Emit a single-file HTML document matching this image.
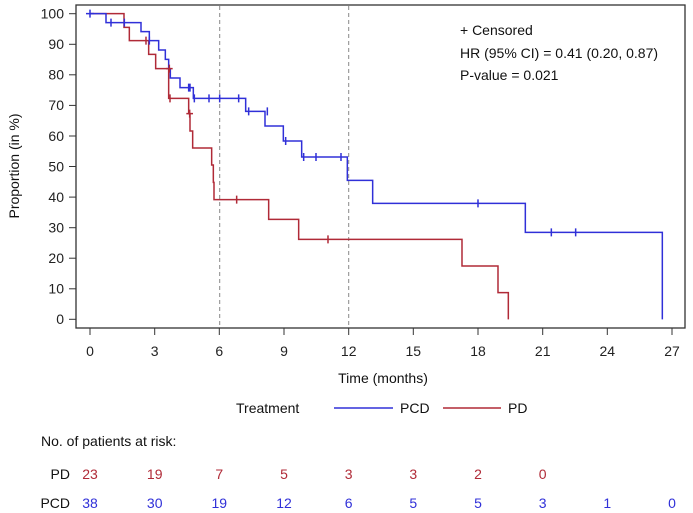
<!DOCTYPE html>
<html><head><meta charset="utf-8"><style>
body{margin:0;background:#fff;}
svg{display:block;font-family:"Liberation Sans",Arial,sans-serif;}
</style></head><body>
<svg width="693" height="513" viewBox="0 0 693 513" xmlns="http://www.w3.org/2000/svg">
<rect x="76" y="5" width="609" height="323" fill="none" stroke="#333" stroke-width="1.3"/>
<g stroke="#333" stroke-width="1">
<line x1="69" x2="76" y1="13.7" y2="13.7"/><line x1="69" x2="76" y1="44.3" y2="44.3"/>
<line x1="69" x2="76" y1="74.8" y2="74.8"/><line x1="69" x2="76" y1="105.4" y2="105.4"/>
<line x1="69" x2="76" y1="136" y2="136"/><line x1="69" x2="76" y1="166.5" y2="166.5"/>
<line x1="69" x2="76" y1="197.1" y2="197.1"/><line x1="69" x2="76" y1="227.7" y2="227.7"/>
<line x1="69" x2="76" y1="258.2" y2="258.2"/><line x1="69" x2="76" y1="288.8" y2="288.8"/>
<line x1="69" x2="76" y1="319.3" y2="319.3"/>
<line x1="90" x2="90" y1="328" y2="335"/><line x1="154.7" x2="154.7" y1="328" y2="335"/>
<line x1="219.3" x2="219.3" y1="328" y2="335"/><line x1="284" x2="284" y1="328" y2="335"/>
<line x1="348.7" x2="348.7" y1="328" y2="335"/><line x1="413.3" x2="413.3" y1="328" y2="335"/>
<line x1="478" x2="478" y1="328" y2="335"/><line x1="542.7" x2="542.7" y1="328" y2="335"/>
<line x1="607.3" x2="607.3" y1="328" y2="335"/><line x1="672" x2="672" y1="328" y2="335"/>
</g>
<g font-size="14" fill="#222" text-anchor="end">
<text x="64" y="18.5">100</text><text x="64" y="49">90</text><text x="64" y="79.5">80</text>
<text x="64" y="110">70</text><text x="64" y="141">60</text><text x="64" y="171.5">50</text>
<text x="64" y="202">40</text><text x="64" y="232.5">30</text><text x="64" y="263">20</text>
<text x="64" y="293.5">10</text><text x="64" y="324">0</text>
</g>
<g font-size="14" fill="#222" text-anchor="middle">
<text x="90" y="356">0</text><text x="154.7" y="356">3</text><text x="219.3" y="356">6</text>
<text x="284" y="356">9</text><text x="348.7" y="356">12</text><text x="413.3" y="356">15</text>
<text x="478" y="356">18</text><text x="542.7" y="356">21</text><text x="607.3" y="356">24</text>
<text x="672" y="356">27</text>
</g>
<text x="383" y="383" font-size="14" text-anchor="middle" fill="#111">Time (months)</text>
<text transform="translate(19,166) rotate(-90)" font-size="14" text-anchor="middle" fill="#111">Proportion (in %)</text>
<g stroke="#888" stroke-dasharray="4,3" stroke-width="1">
<line x1="219.7" x2="219.7" y1="6" y2="327"/><line x1="348.7" x2="348.7" y1="6" y2="327"/>
</g>
<g transform="translate(60,0) scale(0.33333)" fill="none" stroke-width="1.5">
<path vector-effect="non-scaling-stroke" stroke="#b02a37" d="M90,41H192V82H208V122H266V163H287V206H326V295H386V341H390V393H398V444H455V495H460V547H462V599H626V658H716V718H1206V798H1314V878H1345V958"/>
<path vector-effect="non-scaling-stroke" stroke="#3030d8" d="M90,41H138V68H243V95H268V122H296V150H316V178H326V206H331V234H360V263H400V295H557V334H615V378H670V423H725V471H862V541H938V610H1396V697H1807V958"/>
<path vector-effect="non-scaling-stroke" stroke="#3030d8" d="M90,29V53M78,41H102M153,56V80M193,56V80M268,110V134M386,251V275M390,251V275M403,283V307M447,283V307M479,283V307M536,283V307M566,322V346M622,322V346M677,411V435M731,459V483M768,459V483M843,459V483M1254,598V622M1474,685V709M1547,685V709"/>
<path vector-effect="non-scaling-stroke" stroke="#b02a37" d="M258,110V134M328,194V218M318,206H338M330,283V307M389,329V353M379,341H399M530,587V611M804,706V730"/>
</g>
<g font-size="14" fill="#111">
<text x="460" y="35">+ Censored</text>
<text x="460" y="58">HR (95% CI) = 0.41 (0.20, 0.87)</text>
<text x="460" y="80">P-value = 0.021</text>
</g>
<g font-size="14" fill="#111">
<text x="236" y="413">Treatment</text>
<line x1="334" x2="393" y1="408" y2="408" stroke="#3030d8" stroke-width="1.5"/>
<text x="400" y="413">PCD</text>
<line x1="443" x2="501" y1="408" y2="408" stroke="#b02a37" stroke-width="1.5"/>
<text x="508" y="413">PD</text>
<text x="41" y="446">No. of patients at risk:</text>
</g>
<g font-size="14" text-anchor="middle">
<text x="70" y="479" text-anchor="end" fill="#111">PD</text>
<text x="70" y="508" text-anchor="end" fill="#111">PCD</text>
<g fill="#b02a37">
<text x="90" y="479">23</text><text x="154.7" y="479">19</text><text x="219.3" y="479">7</text>
<text x="284" y="479">5</text><text x="348.7" y="479">3</text><text x="413.3" y="479">3</text>
<text x="478" y="479">2</text><text x="542.7" y="479">0</text>
</g>
<g fill="#3030d8">
<text x="90" y="508">38</text><text x="154.7" y="508">30</text><text x="219.3" y="508">19</text>
<text x="284" y="508">12</text><text x="348.7" y="508">6</text><text x="413.3" y="508">5</text>
<text x="478" y="508">5</text><text x="542.7" y="508">3</text><text x="607.3" y="508">1</text>
<text x="672" y="508">0</text>
</g>
</g>
</svg>
</body></html>
